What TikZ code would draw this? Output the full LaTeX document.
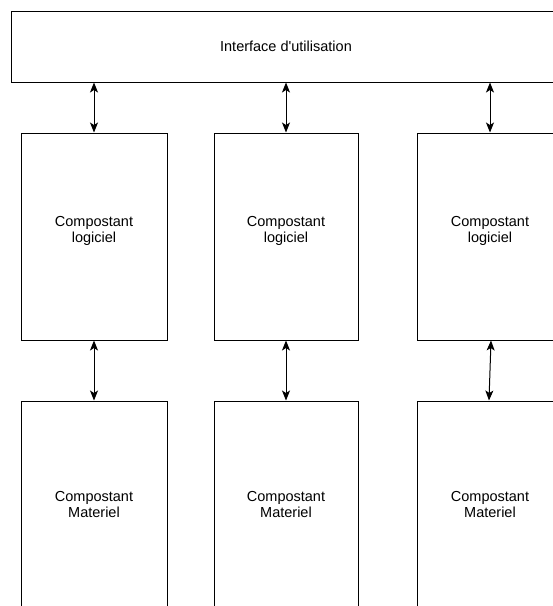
\documentclass[tikz,border=0pt]{standalone}
\usepackage{fontspec}
\setmainfont{Liberation Sans}
\usetikzlibrary{arrows.meta}
\begin{document}
\begin{tikzpicture}[x=1pt,y=1pt,
  txt/.style={font=\fontsize{14.5}{16}\selectfont},
  box/.style={draw=black,line width=1pt,fill=white,rectangle,inner sep=0pt,align=center,txt},
  upper/.style={label={[align=center,txt,yshift=6pt]center:#1}},
  link/.style={line width=1pt,{Stealth[length=10pt,width=8pt,inset=2.5pt]}-{Stealth[length=10pt,width=8pt,inset=2.5pt]}}]
\useasboundingbox (0,0) rectangle (553,-606);
\clip (0,0) rectangle (553,-606);
\node[box,minimum width=550,minimum height=71] (top) at (286,-46.5) {Interface d\textquotesingle utilisation};
\node[box,minimum width=146,minimum height=207,upper={Compostant\\logiciel}] (l1) at (94,-236.5) {};
\node[box,minimum width=144,minimum height=207,upper={Compostant\\logiciel}] (m1) at (286,-236.5) {};
\node[box,minimum width=146,minimum height=207,upper={Compostant\\logiciel}] (r1) at (490,-236.5) {};
\node[box,minimum width=146,minimum height=208] (l2) at (94,-505) {Compostant\\Materiel};
\node[box,minimum width=144,minimum height=208] (m2) at (286,-505) {Compostant\\Materiel};
\node[box,minimum width=146,minimum height=208] (r2) at (490,-505) {Compostant\\Materiel};
\draw[link] (l1.north |- top.south) -- (l1.north);
\draw[link] (m1.north |- top.south) -- (m1.north);
\draw[link] (r1.north |- top.south) -- (r1.north);
\draw[link] (l1.south) -- (l2.north);
\draw[link] (m1.south) -- (m2.north);
\draw[link] ([xshift=1pt]r1.south) -- ([xshift=-1pt]r2.north);
\end{tikzpicture}
\end{document}
